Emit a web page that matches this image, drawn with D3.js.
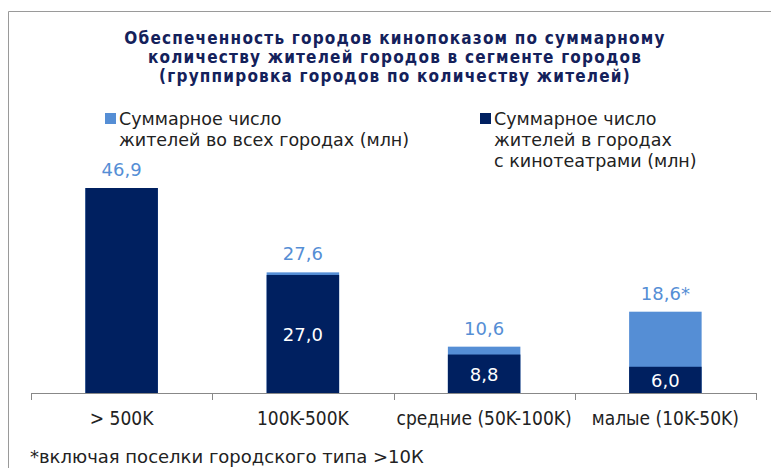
<!DOCTYPE html>
<html>
<head>
<meta charset="utf-8">
<script src="https://cdn.jsdelivr.net/npm/d3@7"></script>
<style>
  body { margin: 0; background: #fff; }
  text { font-family: "DejaVu Sans", Verdana, sans-serif; }
</style>
</head>
<body>
<svg id="chart" width="771" height="468"></svg>
<script>
const categories = ["> 500K", "100K-500K", "средние (50K-100K)", "малые (10K-50K)"];
const totalAll = [46.9, 27.6, 10.6, 18.6];       // all cities
const withCinema = [46.9, 27.0, 8.8, 6.0];       // cities with cinemas
const totalLabels = ["46,9", "27,6", "10,6", "18,6*"];
const innerLabels = ["", "27,0", "8,8", "6,0"];
const titleLines = [
  "Обеспеченность городов кинопоказом по суммарному",
  "количеству жителей городов в сегменте городов",
  "(группировка городов по количеству жителей)"
];

const width = 771, height = 468;
const margin = { top: 188, right: 15, bottom: 75, left: 31 };
const light = "#558ED5", dark = "#002060";
const condensed = "'DejaVu Sans Condensed', 'DejaVu Sans', sans-serif";

const svg = d3.select("#chart");

// frame
svg.append("path")
  .attr("d", "M8.5," + height + "V11.5H" + width)
  .attr("fill", "none")
  .attr("stroke", "#9a9a9a");

// title
svg.append("g").selectAll("text")
  .data(titleLines)
  .join("text")
  .attr("x", 395)
  .attr("y", (d, i) => 44 + i * 19)
  .attr("text-anchor", "middle")
  .style("font-family", condensed)
  .style("font-weight", "bold")
  .style("font-size", "17px")
  .style("letter-spacing", "1.2px")
  .attr("fill", "#14215b")
  .text(d => d);

const x = d3.scaleBand()
  .domain(categories)
  .range([margin.left, width - margin.right])
  .paddingInner(0.6)
  .paddingOuter(0.3);

const y = d3.scaleLinear()
  .domain([0, 46.9])
  .range([height - margin.bottom, margin.top]);

const base = y(0);

// total bars (light) then cinema bars (dark) on top
svg.append("g").selectAll("rect")
  .data(categories)
  .join("rect")
  .attr("x", d => x(d))
  .attr("width", x.bandwidth())
  .attr("y", (d, i) => y(totalAll[i]))
  .attr("height", (d, i) => base - y(totalAll[i]))
  .attr("fill", light);

svg.append("g").selectAll("rect")
  .data(categories)
  .join("rect")
  .attr("x", d => x(d))
  .attr("width", x.bandwidth())
  .attr("y", (d, i) => y(withCinema[i]))
  .attr("height", (d, i) => base - y(withCinema[i]))
  .attr("fill", dark);

// axis
const step = x.step();
const bounds = categories.map(d => x(d) - (step - x.bandwidth()) / 2).concat([width - margin.right]);
const axisG = svg.append("g");
axisG.append("line")
  .attr("x1", margin.left).attr("x2", width - margin.right)
  .attr("y1", base + 0.5).attr("y2", base + 0.5)
  .attr("stroke", "#888");
axisG.selectAll(".tick")
  .data(bounds)
  .join("line")
  .attr("x1", d => Math.round(d) + 0.5).attr("x2", d => Math.round(d) + 0.5)
  .attr("y1", base).attr("y2", base + 7)
  .attr("stroke", "#888");

axisG.selectAll(".cat")
  .data(categories)
  .join("text")
  .attr("x", d => x(d) + x.bandwidth() / 2)
  .attr("y", base + 32)
  .attr("text-anchor", "middle")
  .style("font-family", condensed)
  .style("font-size", "19px")
  .attr("fill", "#222")
  .text(d => d);

// value labels
svg.append("g").selectAll("text")
  .data(categories)
  .join("text")
  .attr("x", d => x(d) + x.bandwidth() / 2)
  .attr("y", (d, i) => y(totalAll[i]) - 12)
  .attr("text-anchor", "middle")
  .style("font-size", "18px")
  .attr("fill", light)
  .text((d, i) => totalLabels[i]);

svg.append("g").selectAll("text")
  .data(categories)
  .join("text")
  .attr("x", d => x(d) + x.bandwidth() / 2)
  .attr("y", (d, i) => (y(withCinema[i]) + base) / 2 + 7)
  .attr("text-anchor", "middle")
  .style("font-size", "18px")
  .attr("fill", "#fff")
  .text((d, i) => innerLabels[i]);

// legend
const legend = [
  { color: light, x: 105, lines: ["Суммарное число", "жителей во всех городах (млн)"] },
  { color: dark, x: 480, lines: ["Суммарное число", "жителей в городах", "с кинотеатрами (млн)"] }
];
const lg = svg.append("g").selectAll("g").data(legend).join("g");
lg.append("rect")
  .attr("x", d => d.x).attr("y", 113)
  .attr("width", 11).attr("height", 11)
  .attr("fill", d => d.color);
lg.each(function (d) {
  d3.select(this).selectAll("text")
    .data(d.lines)
    .join("text")
    .attr("x", d.x + 14)
    .attr("y", (t, i) => 125 + i * 21)
    .style("font-size", "17.5px")
    .attr("fill", "#222")
    .text(t => t);
});

// footnote
svg.append("text")
  .attr("x", 30).attr("y", 463)
  .style("font-size", "18px")
  .attr("fill", "#222")
  .text("*включая поселки городского типа >10К");
</script>
</body>
</html>
